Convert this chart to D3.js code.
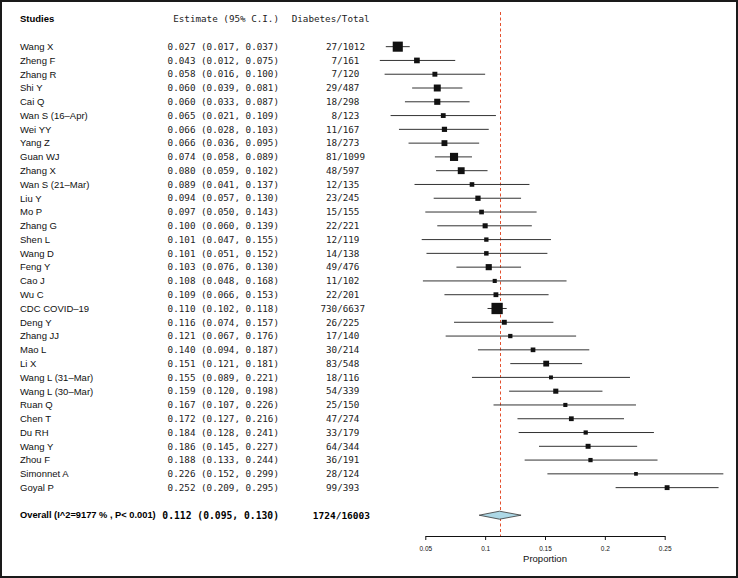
<!DOCTYPE html>
<html>
<head>
<meta charset="utf-8">
<script src="https://cdn.jsdelivr.net/npm/d3@7"></script>
<style>
  html, body { margin: 0; padding: 0; background: #fff; }
  svg { display: block; }
</style>
</head>
<body>
<div id="chart"></div>
<script>
const studies = ["Wang X","Zheng F","Zhang R","Shi Y","Cai Q","Wan S (16\u2013Apr)","Wei YY","Yang Z","Guan WJ","Zhang X","Wan S (21\u2013Mar)","Liu Y","Mo P","Zhang G","Shen L","Wang D","Feng Y","Cao J","Wu C","CDC COVID\u201319","Deng Y","Zhang JJ","Mao L","Li X","Wang L (31\u2013Mar)","Wang L (30\u2013Mar)","Ruan Q","Chen T","Du RH","Wang Y","Zhou F","Simonnet A","Goyal P"];
const estimates = [0.027,0.043,0.058,0.060,0.060,0.065,0.066,0.066,0.074,0.080,0.089,0.094,0.097,0.100,0.101,0.101,0.103,0.108,0.109,0.110,0.116,0.121,0.140,0.151,0.155,0.159,0.167,0.172,0.184,0.186,0.188,0.226,0.252];
const lowers = [0.017,0.012,0.016,0.039,0.033,0.021,0.028,0.036,0.058,0.059,0.041,0.057,0.050,0.060,0.047,0.051,0.076,0.048,0.066,0.102,0.074,0.067,0.094,0.121,0.089,0.120,0.107,0.127,0.128,0.145,0.133,0.152,0.209];
const uppers = [0.037,0.075,0.100,0.081,0.087,0.109,0.103,0.095,0.089,0.102,0.137,0.130,0.143,0.139,0.155,0.152,0.130,0.168,0.153,0.118,0.157,0.176,0.187,0.181,0.221,0.198,0.226,0.216,0.241,0.227,0.244,0.299,0.295];
const events = [27,7,7,29,18,8,11,18,81,48,12,23,15,22,12,14,49,11,22,730,26,17,30,83,18,54,25,47,33,64,36,28,99];
const totals = [1012,161,120,487,298,123,167,273,1099,597,135,245,155,221,119,138,476,102,201,6637,225,140,214,548,116,339,150,274,179,344,191,124,393];
const overallLabel = "Overall (I^2=9177 % , P< 0.001)";
const overallEstimate = [0.112, 0.095, 0.130];
const overallCount = [1724, 16003];
const tickValues = [0.05, 0.1, 0.15, 0.2, 0.25];
const headers = ["Studies", "Estimate (95% C.I.)", "Diabetes/Total"];
const xLabel = "Proportion";

const W = 738, H = 578;
const svg = d3.select("#chart").append("svg").attr("width", W).attr("height", H);

// frame
svg.append("rect").attr("x", 1).attr("y", 1).attr("width", W - 2).attr("height", H - 2)
  .attr("fill", "#fff").attr("stroke", "#1a1a1a").attr("stroke-width", 2);

const x = d3.scaleLinear().domain([0.05, 0.25]).range([425.3, 664.7]);
const y = d3.scaleLinear().domain([-2, 34]).range([19.1, 515.2]);

const sansFont = "'Liberation Sans', Arial, Helvetica, sans-serif";
const monoFont = "'DejaVu Sans Mono', monospace";
const fmt = d3.format(".3f");

const colName = 20, colEstEnd = 279, colCountEnd = 365;

// headers
svg.append("text").attr("x", colName).attr("y", y(-2)).attr("dy", "0.35em")
  .attr("font-family", sansFont).attr("font-size", 9.5).attr("font-weight", "bold").text(headers[0]);
svg.append("text").attr("x", colEstEnd).attr("y", y(-2)).attr("dy", "0.35em").attr("text-anchor", "end")
  .attr("font-family", monoFont).attr("font-size", 9.25).attr("fill", "#222").text(headers[1]);
svg.append("text").attr("x", 291.7).attr("y", y(-2)).attr("dy", "0.35em")
  .attr("font-family", monoFont).attr("font-size", 9.25).attr("fill", "#222").text(headers[2]);

const rows = studies.map((s, i) => ({
  name: s, est: estimates[i], lo: lowers[i], hi: uppers[i], ev: events[i], tot: totals[i], i
}));

// reference line
const xr = Math.round(x(overallEstimate[0])) + 0.5;
svg.append("line").attr("x1", xr).attr("x2", xr)
  .attr("y1", 12).attr("y2", 536)
  .attr("stroke", "#e4502e").attr("stroke-width", 1).attr("stroke-dasharray", "3,2.5");

// text columns
const g = svg.append("g");
g.selectAll("text.name").data(rows).join("text").attr("class", "name")
  .attr("x", colName).attr("y", d => y(d.i)).attr("dy", "0.35em")
  .attr("font-family", sansFont).attr("font-size", 9.5).attr("fill", "#111").text(d => d.name);
g.selectAll("text.est").data(rows).join("text").attr("class", "est")
  .attr("x", colEstEnd).attr("y", d => y(d.i)).attr("dy", "0.35em").attr("text-anchor", "end")
  .attr("font-family", monoFont).attr("font-size", 9.25).attr("fill", "#222")
  .text(d => `${fmt(d.est)} (${fmt(d.lo)}, ${fmt(d.hi)})`);
g.selectAll("text.cnt").data(rows).join("text").attr("class", "cnt")
  .attr("x", colCountEnd).attr("y", d => y(d.i)).attr("dy", "0.35em").attr("text-anchor", "end")
  .attr("font-family", monoFont).attr("font-size", 9.25).attr("fill", "#222")
  .text(d => `${d.ev}/${String(d.tot).padEnd(4, "\u00A0")}`);

// overall row text
svg.append("text").attr("x", colName).attr("y", y(34)).attr("dy", "0.35em")
  .attr("font-family", sansFont).attr("font-size", 9.3).attr("font-weight", "bold").text(overallLabel);
svg.append("text").attr("x", colEstEnd).attr("y", y(34)).attr("dy", "0.35em").attr("text-anchor", "end")
  .attr("font-family", monoFont).attr("font-size", 9.7).attr("font-weight", "bold")
  .text(`${fmt(overallEstimate[0])} (${fmt(overallEstimate[1])}, ${fmt(overallEstimate[2])})`);
svg.append("text").attr("x", 370).attr("y", y(34)).attr("dy", "0.35em").attr("text-anchor", "end")
  .attr("font-family", monoFont).attr("font-size", 9.5).attr("font-weight", "bold")
  .text(`${overallCount[0]}/${overallCount[1]}`);

// CI lines
g.selectAll("line.ci").data(rows).join("line").attr("class", "ci")
  .attr("x1", d => x(d.lo)).attr("x2", d => x(d.hi))
  .attr("y1", d => y(d.i)).attr("y2", d => y(d.i))
  .attr("stroke", "#333").attr("stroke-width", 1);

// squares sized by precision
const prec = rows.map(d => 1 / (d.hi - d.lo));
const size = d3.scaleSqrt().domain(d3.extent(prec)).range([3.7, 11.3]);
g.selectAll("rect.box").data(rows).join("rect").attr("class", "box")
  .attr("x", d => x(d.est) - size(1 / (d.hi - d.lo)) / 2)
  .attr("y", d => y(d.i) - size(1 / (d.hi - d.lo)) / 2)
  .attr("width", d => size(1 / (d.hi - d.lo)))
  .attr("height", d => size(1 / (d.hi - d.lo)))
  .attr("fill", "#111");

// diamond
const yo = y(34);
svg.append("polygon")
  .attr("points", [[x(overallEstimate[1]), yo], [x(overallEstimate[0]), yo - 4], [x(overallEstimate[2]), yo], [x(overallEstimate[0]), yo + 4]].map(p => p.join(",")).join(" "))
  .attr("fill", "#add8e6").attr("stroke", "#333").attr("stroke-width", 0.8);

// axis
const axis = d3.axisBottom(x).tickValues(tickValues).tickSize(4).tickSizeOuter(0).tickPadding(6)
  .tickFormat(d => String(+d.toFixed(2)));
const ag = svg.append("g").attr("transform", "translate(0,536)").call(axis);
ag.select(".domain").attr("stroke", "#111");
ag.selectAll(".tick line").attr("stroke", "#111");
ag.selectAll(".tick text").attr("font-family", sansFont).attr("font-size", 6.5).attr("fill", "#111");

svg.append("text").attr("x", x(0.15)).attr("y", 561.5).attr("text-anchor", "middle")
  .attr("font-family", sansFont).attr("font-size", 9.5).attr("fill", "#111").text(xLabel);
</script>
</body>
</html>
